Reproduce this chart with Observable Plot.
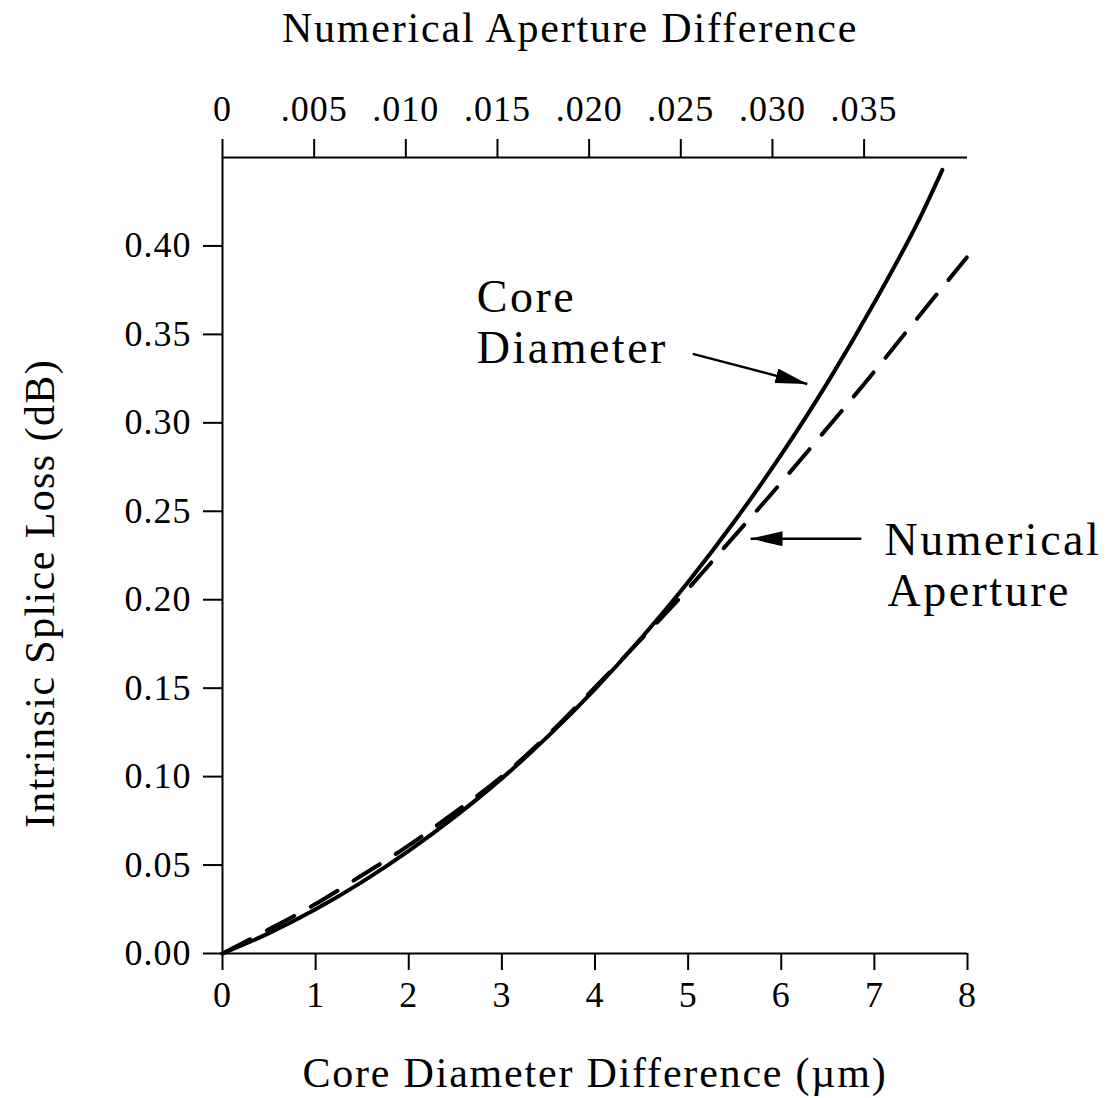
<!DOCTYPE html>
<html>
<head>
<meta charset="utf-8">
<script src="https://cdn.jsdelivr.net/npm/d3@7"></script>
<script src="https://cdn.jsdelivr.net/npm/@observablehq/plot@0.6"></script>
<style>
  html, body { margin: 0; padding: 0; background: #fff; }
  #chart svg { display: block; }
</style>
</head>
<body>
<div id="chart"></div>
<script>
// ---- Data ----
// Core diameter mismatch (bottom axis, µm) -> intrinsic splice loss (dB), solid line
const coreDiameterUm   = [0, 0.5, 1, 1.5, 2, 2.5, 3, 3.5, 4, 4.5, 5, 5.5, 6, 6.5, 7, 7.5, 7.73];
const coreDiameterLoss = [0, 0.0115, 0.025, 0.0405, 0.058, 0.0775, 0.099, 0.123, 0.1495, 0.1785, 0.210, 0.2445, 0.282, 0.323, 0.368, 0.417, 0.443];

// Numerical aperture mismatch (top axis) -> intrinsic splice loss (dB), dashed line
const naDifference = [0, .0025, .005, .0075, .010, .0125, .015, .0175, .020, .0225, .025, .0275, .030, .0325, .035, .0375, .0406];
const naLoss       = [0, 0.0135, 0.0275, 0.0435, 0.060, 0.0785, 0.098, 0.121, 0.147, 0.174, 0.2015, 0.231, 0.2605, 0.291, 0.322, 0.354, 0.3935];

// Axis ticks
const xTicks = [0, 1, 2, 3, 4, 5, 6, 7, 8];
const yTicks = [0, 0.05, 0.10, 0.15, 0.20, 0.25, 0.30, 0.35, 0.40];
const naTicks = [0, .005, .010, .015, .020, .025, .030, .035];
const naTickLabels = ["0", ".005", ".010", ".015", ".020", ".025", ".030", ".035"];

// Top axis alignment: NA difference that lines up with 1 µm on the bottom axis
const NA_PER_UM = 0.00508;

// Annotations (data coordinates, bottom-axis units)
const labelText = ["Core", "Diameter", "Numerical", "Aperture"];
const labelX    = [2.73, 2.73, 7.11, 7.14];
const labelY    = [0.371, 0.342, 0.2335, 0.205];
const arrowX1 = [5.05, 6.86];
const arrowY1 = [0.339, 0.2345];
const arrowX2 = [6.28, 5.67];
const arrowY2 = [0.322, 0.2345];

// ---- Build tables ----
const coreData = coreDiameterUm.map((x, i) => ({x, loss: coreDiameterLoss[i]}));
const naData = naDifference.map((na, i) => ({x: na / NA_PER_UM, loss: naLoss[i]}));
const labels = labelText.map((text, i) => ({text, x: labelX[i], y: labelY[i]}));
const arrows = arrowX1.map((x1, i) => ({x1, y1: arrowY1[i], x2: arrowX2[i], y2: arrowY2[i]}));

const FONT = "'Liberation Serif', 'Times New Roman', serif";

const svg = Plot.plot({
  width: 1118,
  height: 1098,
  marginLeft: 222,
  marginRight: 151,
  marginTop: 157,
  marginBottom: 145,
  style: {fontFamily: FONT, color: "black", background: "white", overflow: "visible"},
  x: {domain: [0, 8]},
  y: {domain: [0, 0.45]},
  marks: [
    // axis lines
    Plot.ruleX([0], {stroke: "black", strokeWidth: 2}),
    Plot.ruleY([0], {stroke: "black", strokeWidth: 2}),
    Plot.ruleY([0.45], {stroke: "black", strokeWidth: 2}),
    // bottom axis
    Plot.axisX(xTicks, {anchor: "bottom", tickSize: 17, tickPadding: 11, fontSize: 36, strokeWidth: 2, label: null, tickFormat: d => String(d)}),
    // top axis (numerical aperture difference)
    Plot.axisX(naTicks.map(v => v / NA_PER_UM), {anchor: "top", tickSize: 19, tickPadding: 18, fontSize: 36, strokeWidth: 2, label: null, tickFormat: (d, i) => naTickLabels[i]}),
    // left axis
    Plot.axisY(yTicks, {anchor: "left", tickSize: 19, tickPadding: 12, fontSize: 36, strokeWidth: 2, label: null, tickFormat: d3.format(".2f")}),
    // axis titles
    Plot.text(["Core Diameter Difference (µm)"], {frameAnchor: "bottom", dy: 120, fontSize: 42, textAnchor: "middle", lineAnchor: "middle", className: "title-text"}),
    Plot.text(["Numerical Aperture Difference"], {frameAnchor: "top", dx: -25, dy: -129, fontSize: 42, textAnchor: "middle", lineAnchor: "middle", className: "title-text"}),
    Plot.text(["Intrinsic Splice Loss (dB)"], {frameAnchor: "left", dx: -182, dy: 38, rotate: -90, fontSize: 42, textAnchor: "middle", lineAnchor: "middle", className: "ytitle-text"}),
    // curves
    Plot.line(coreData, {x: "x", y: "loss", stroke: "black", strokeWidth: 4, curve: "monotone-x"}),
    Plot.line(naData, {x: "x", y: "loss", stroke: "black", strokeWidth: 4, strokeDasharray: "31,19", curve: "monotone-x"}),
    // annotations
    Plot.text(labels, {x: "x", y: "y", text: "text", textAnchor: "start", lineAnchor: "middle", fontSize: 46, className: "anno-text"}),
    Plot.link(arrows, {x1: "x1", y1: "y1", x2: "x2", y2: "y2", stroke: "black", strokeWidth: 2.5, className: "anno-arrow"})
  ]
});

// letter spacing to approximate the wide serif typeface of the original
const s = d3.select(svg);
s.selectAll("g[aria-label='x-axis tick label'] text, g[aria-label='y-axis tick label'] text").style("letter-spacing", "1px");
s.selectAll(".title-text text").style("letter-spacing", "1.8px");
s.selectAll(".ytitle-text text").style("letter-spacing", "1.4px");
s.selectAll(".anno-text text").style("letter-spacing", "2.5px");

// filled arrowheads
const defs = s.append("defs");
defs.append("marker")
  .attr("id", "arrowhead")
  .attr("viewBox", "0 0 10 10")
  .attr("preserveAspectRatio", "none")
  .attr("refX", 10).attr("refY", 5)
  .attr("markerUnits", "userSpaceOnUse")
  .attr("markerWidth", 32).attr("markerHeight", 15)
  .attr("orient", "auto")
  .append("path").attr("d", "M0,0L10,5L0,10Z").attr("fill", "black");
s.selectAll(".anno-arrow path").attr("marker-end", "url(#arrowhead)");

document.getElementById("chart").appendChild(svg);
</script>
</body>
</html>
